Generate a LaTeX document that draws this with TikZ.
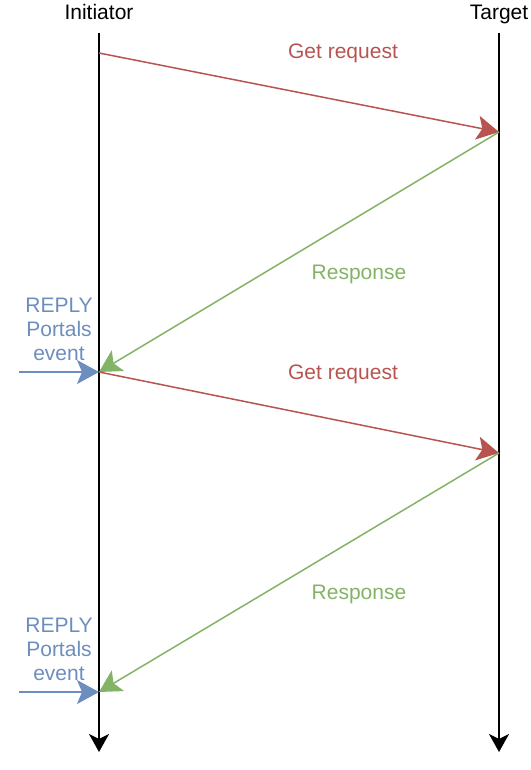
\documentclass[tikz,border=0pt]{standalone}
\usepackage{fontspec}
\setmainfont{Liberation Sans}
\usetikzlibrary{arrows.meta}
\definecolor{RequestColor}{HTML}{B85450}
\definecolor{ResponseColor}{HTML}{82B366}
\definecolor{EventColor}{HTML}{6C8EBF}
\tikzstyle{life_line}=[draw=black,
                       line width=2pt,
                       -{Stealth[length=18pt, width=20pt, inset=5pt]}, ]
\tikzstyle{message}=[line width=1.5pt,
                     -{Stealth[length=22pt, width=24pt, inset=5pt]}, ]
\tikzstyle{label_text}=[inner sep=0pt,
                        anchor=base,
                        align=center,
                        font=\fontsize{21}{24}\selectfont, ]

\begin{document}
\begin{tikzpicture}[x=1pt, y=-1pt]
    \useasboundingbox (0, 0) rectangle (530, 770);
    % ---------------------------------------------------------------------------------------------------------
    %  Levenslijnen
    \node at (99, 19.5) (Initiator) [label_text] {Initiator};
    \node at (499, 19.5) (Target) [label_text] {Target};

    \coordinate (I-top) at (99, 33);
    \coordinate (I-bot) at (99, 752);
    \coordinate (T-top) at (499, 33);
    \coordinate (T-bot) at (499, 752);

    \draw[life_line] (I-top) -- (I-bot);
    \draw[life_line] (T-top) -- (T-bot);

    % ---------------------------------------------------------------------------------------------------------
    %  Berichten
    \coordinate (I0) at (99, 53);
    \coordinate (T0) at (499, 132);
    \coordinate (I1) at (99, 372);
    \coordinate (T1) at (499, 453);
    \coordinate (I2) at (99, 692);

    \draw[message, RequestColor] (I0) -- (T0);
    \draw[message, ResponseColor] (T0) -- (I1);
    \draw[message, RequestColor] (I1) -- (T1);
    \draw[message, ResponseColor] (T1) -- (I2);

    \node at (343, 59) (Req0) [label_text, text=RequestColor] {Get request};
    \node at (359, 279) (Resp0) [label_text, text=ResponseColor] {Response};
    \node at (343, 379) (Req1) [label_text, text=RequestColor] {Get request};
    \node at (359, 599) (Resp1) [label_text, text=ResponseColor] {Response};

    % ---------------------------------------------------------------------------------------------------------
    %  Portals events
    \coordinate (E0) at (19, 372);
    \coordinate (E1) at (19, 692);

    \draw[message, EventColor] (E0) -- (I1);
    \draw[message, EventColor] (E1) -- (I2);

    \node at (59, 360) (Ev0) [label_text, text=EventColor] {REPLY\\Portals\\event};
    \node at (59, 680) (Ev1) [label_text, text=EventColor] {REPLY\\Portals\\event};
\end{tikzpicture}
\end{document}
